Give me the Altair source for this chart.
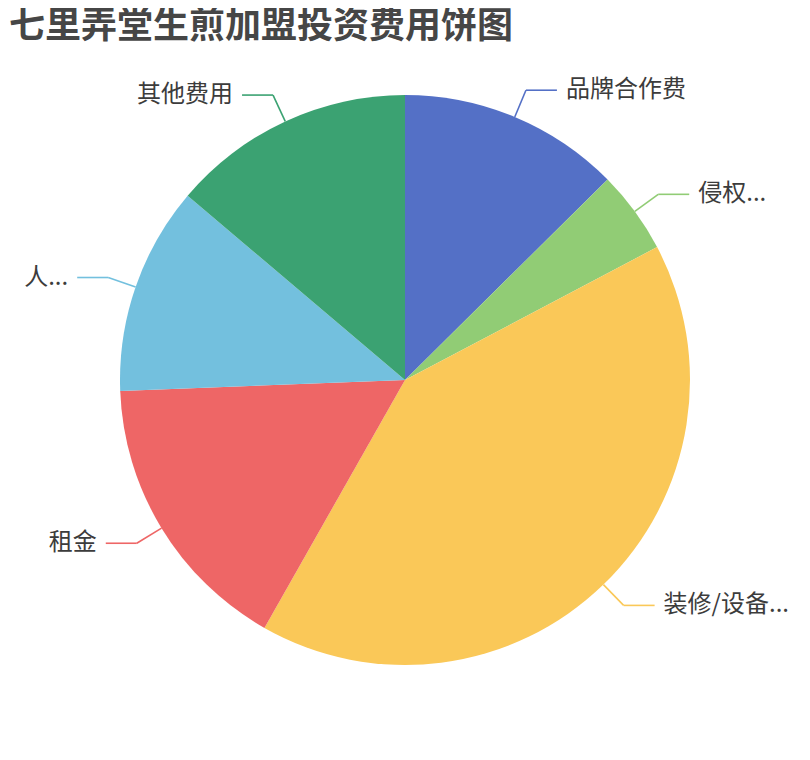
import altair as alt
import pandas as pd

# ---- data ----
title_text = "七里弄堂生煎加盟投资费用饼图"
names = ["品牌合作费", "侵权...", "装修/设备...", "租金", "人...", "其他费用"]
values = [4.53, 1.69, 14.735, 5.825, 4.25, 4.97]
colors = ["#5470c6", "#91cc75", "#fac858", "#ee6666", "#73c0de", "#3ba272"]

df = pd.DataFrame({"name": names, "value": values, "idx": list(range(len(names)))})
title_df = pd.DataFrame({"t": [title_text]})

# ---- layout constants ----
W, H = 794, 736
CX, CY = 397, 372
R = 285
L1, L2, GAP = 29, 31, 9
FONT = "Noto Sans CJK SC"

color = alt.Color("name:N", scale=alt.Scale(domain=names, range=colors), legend=None)
xscale = alt.Scale(domain=[-CX, W - CX], nice=False, zero=False)
yscale = alt.Scale(domain=[CY - H, CY], nice=False, zero=False)

base = alt.Chart(df)

arc = base.mark_arc(outerRadius=R).encode(
    theta=alt.Theta("value:Q", stack=True),
    order=alt.Order("idx:Q"),
    color=color,
    x=alt.value(CX),
    y=alt.value(CY),
)

geo = (
    base.transform_joinaggregate(total="sum(value)")
    .transform_window(cum="sum(value)", sort=[alt.SortField("idx")], frame=[None, 0])
    .transform_calculate(mid="2*PI*(datum.cum - datum.value/2)/datum.total")
    .transform_calculate(
        s="sin(datum.mid)", c="cos(datum.mid)",
        side="sin(datum.mid) >= 0 ? 1 : -1",
    )
    .transform_calculate(
        x0=f"{R}*datum.s", y0=f"{R}*datum.c",
        x1=f"{R + L1}*datum.s", y1=f"{R + L1}*datum.c",
    )
    .transform_calculate(
        x2=f"datum.x1 + datum.side*{L2}",
        tx=f"datum.x1 + datum.side*{L2 + GAP}",
    )
)

rule1 = geo.mark_rule(strokeWidth=1.6).encode(
    x=alt.X("x0:Q", scale=xscale, axis=None),
    y=alt.Y("y0:Q", scale=yscale, axis=None),
    x2="x1:Q", y2="y1:Q", color=color,
)
rule2 = geo.mark_rule(strokeWidth=1.6).encode(
    x=alt.X("x1:Q", scale=xscale, axis=None),
    y=alt.Y("y1:Q", scale=yscale, axis=None),
    x2="x2:Q", y2="y1:Q", color=color,
)

text_kw = dict(baseline="middle", fontSize=24, font=FONT, color="#3c3c3c")
tr = geo.transform_filter("datum.side > 0").mark_text(align="left", **text_kw).encode(
    x=alt.X("tx:Q", scale=xscale, axis=None),
    y=alt.Y("y1:Q", scale=yscale, axis=None),
    text="name:N",
)
tl = geo.transform_filter("datum.side < 0").mark_text(align="right", **text_kw).encode(
    x=alt.X("tx:Q", scale=xscale, axis=None),
    y=alt.Y("y1:Q", scale=yscale, axis=None),
    text="name:N",
)

title = alt.Chart(title_df).mark_text(
    align="left", baseline="middle", fontSize=36, fontWeight="bold",
    font=FONT, color="#464646",
).encode(x=alt.value(1), y=alt.value(19), text="t:N")

chart = (
    alt.layer(arc, rule1, rule2, tr, tl, title)
    .properties(width=W, height=H, padding=0, autosize="none", background="white")
    .configure_view(stroke=None)
)

chart.save("out.html", embed_options={"renderer": "svg", "actions": False})
